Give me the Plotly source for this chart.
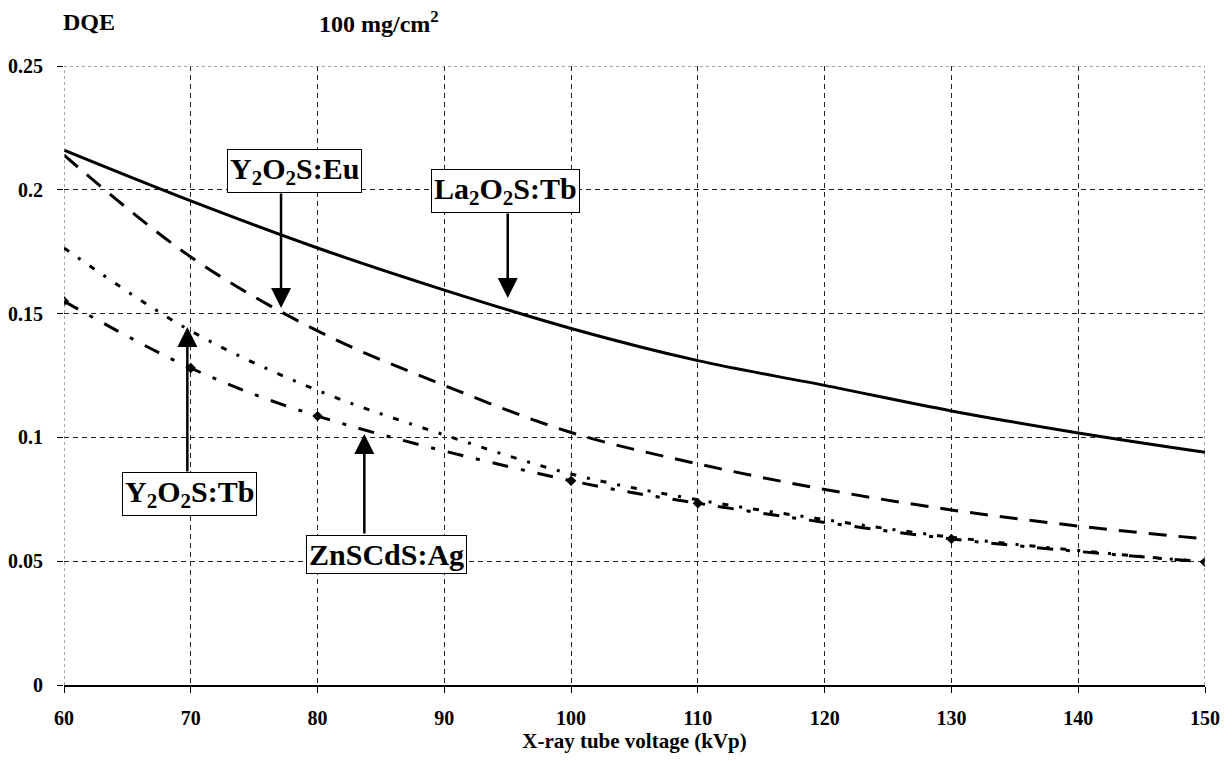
import plotly.graph_objects as go

# X-ray tube voltage (kVp)
kvp = [60, 70, 80, 90, 100, 110, 120, 130, 140, 150]
kvp_zn = [60, 70, 80, 100, 110, 130, 150]

# DQE per phosphor, 100 mg/cm2 coating weight
dqe_la2o2s_tb = [0.216, 0.1955, 0.1765, 0.1595, 0.144, 0.131, 0.121, 0.1107, 0.1018, 0.094]
dqe_y2o2s_eu = [0.214, 0.1729, 0.143, 0.121, 0.102, 0.0893, 0.079, 0.0707, 0.0642, 0.059]
dqe_y2o2s_tb = [0.1765, 0.143, 0.119, 0.101, 0.0852, 0.0748, 0.0668, 0.0597, 0.0543, 0.0497]
dqe_znscds_ag = [0.155, 0.128, 0.1086, 0.0825, 0.0734, 0.059, 0.0497]

x_ticks = [60, 70, 80, 90, 100, 110, 120, 130, 140, 150]
y_ticks = [0, 0.05, 0.1, 0.15, 0.2, 0.25]

SERIF = "Liberation Serif"

fig = go.Figure()

fig.add_trace(go.Scatter(x=kvp, y=dqe_la2o2s_tb, mode="lines", name="La2O2S:Tb",
                         line=dict(color="black", width=3, shape="spline")))
fig.add_trace(go.Scatter(x=kvp, y=dqe_y2o2s_eu, mode="lines", name="Y2O2S:Eu",
                         line=dict(color="black", width=3, dash="18px,12px", shape="spline")))
fig.add_trace(go.Scatter(x=kvp, y=dqe_y2o2s_tb, mode="lines", name="Y2O2S:Tb",
                         line=dict(color="black", width=3, dash="6px,11px,3px,11px", shape="spline")))
fig.add_trace(go.Scatter(x=kvp_zn, y=dqe_znscds_ag, mode="lines+markers", name="ZnSCdS:Ag",
                         line=dict(color="black", width=3, dash="16px,13px,4px,13px", shape="spline"),
                         marker=dict(symbol="diamond", size=8, color="black")))

# Labelled boxes: (text, box centre x, box centre y)
labels = [
    ("Y<sub>2</sub>O<sub>2</sub>S:Eu", 78.22, 0.2076),
    ("La<sub>2</sub>O<sub>2</sub>S:Tb", 94.86, 0.1995),
    ("Y<sub>2</sub>O<sub>2</sub>S:Tb", 69.86, 0.0771),
    ("ZnSCdS:Ag", 85.44, 0.0527),
]
# Arrows: (x, tail y, tip y)
arrows = [
    (77.12, 0.1991, 0.1523),
    (95.0, 0.191, 0.1563),
    (69.73, 0.0856, 0.1446),
    (83.69, 0.0606, 0.1014),
]

annotations = []
for ax_x, tail_y, tip_y in arrows:
    annotations.append(dict(
        x=ax_x, y=tip_y, ax=ax_x, ay=tail_y, xref="x", yref="y", axref="x", ayref="y",
        text="", showarrow=True, arrowhead=2, arrowsize=1.6, arrowwidth=2.5, arrowcolor="black"))
for txt, cx, cy in labels:
    annotations.append(dict(
        x=cx, y=cy, xref="x", yref="y", text="<b>" + txt + "</b>", showarrow=False,
        font=dict(family=SERIF, size=30, color="black"),
        bgcolor="white", bordercolor="black", borderwidth=1, borderpad=2))

annotations.append(dict(x=-0.003, y=1.071, xref="paper", yref="paper", xanchor="left", yanchor="middle",
                        text="<b>DQE</b>", showarrow=False, font=dict(family=SERIF, size=24, color="black")))
annotations.append(dict(x=0.222, y=1.071, xref="paper", yref="paper", xanchor="left", yanchor="middle",
                        text="<b>100 mg/cm<sup>2</sup></b>", showarrow=False,
                        font=dict(family=SERIF, size=24, color="black")))

# Dotted frame on left, top and right edges
shapes = [
    dict(type="line", xref="x", yref="y", x0=60, x1=150, y0=0.25, y1=0.25,
         line=dict(color="#888", width=1.5, dash="dot"), layer="above"),
    dict(type="line", xref="x", yref="y", x0=60, x1=60, y0=0, y1=0.25,
         line=dict(color="#888", width=1.5, dash="dot"), layer="above"),
    dict(type="line", xref="x", yref="y", x0=150, x1=150, y0=0, y1=0.25,
         line=dict(color="#888", width=1.5, dash="dot"), layer="above"),
]

fig.update_layout(
    width=1232, height=761,
    margin=dict(l=64, r=27, t=66, b=76),
    paper_bgcolor="white", plot_bgcolor="white",
    showlegend=False,
    annotations=annotations,
    shapes=shapes,
    font=dict(family=SERIF, color="black"),
)
fig.update_xaxes(
    range=[60, 150], tickvals=x_ticks, ticktext=[f"<b>{v}</b>" for v in x_ticks],
    tickfont=dict(family=SERIF, size=20, color="black"),
    ticks="outside", ticklen=6, tickcolor="black", tickwidth=1, ticklabelstandoff=8,
    showline=True, linecolor="black", linewidth=1.5,
    showgrid=True, gridcolor="#222", gridwidth=1, griddash="5px,4px",
    zeroline=False, automargin=False,
    title=dict(text="<b>X-ray tube voltage (kVp)</b>", font=dict(family=SERIF, size=21, color="black"),
               standoff=6),
)
fig.update_yaxes(
    range=[0, 0.25], tickvals=y_ticks, ticktext=[f"<b>{v:g}</b>" for v in y_ticks],
    tickfont=dict(family=SERIF, size=20, color="black"),
    ticks="outside", ticklen=6, tickcolor="black", tickwidth=1, ticklabelstandoff=10,
    showline=False,
    showgrid=True, gridcolor="#222", gridwidth=1, griddash="5px,4px",
    zeroline=False, automargin=False,
)

fig.write_html("out.html")
